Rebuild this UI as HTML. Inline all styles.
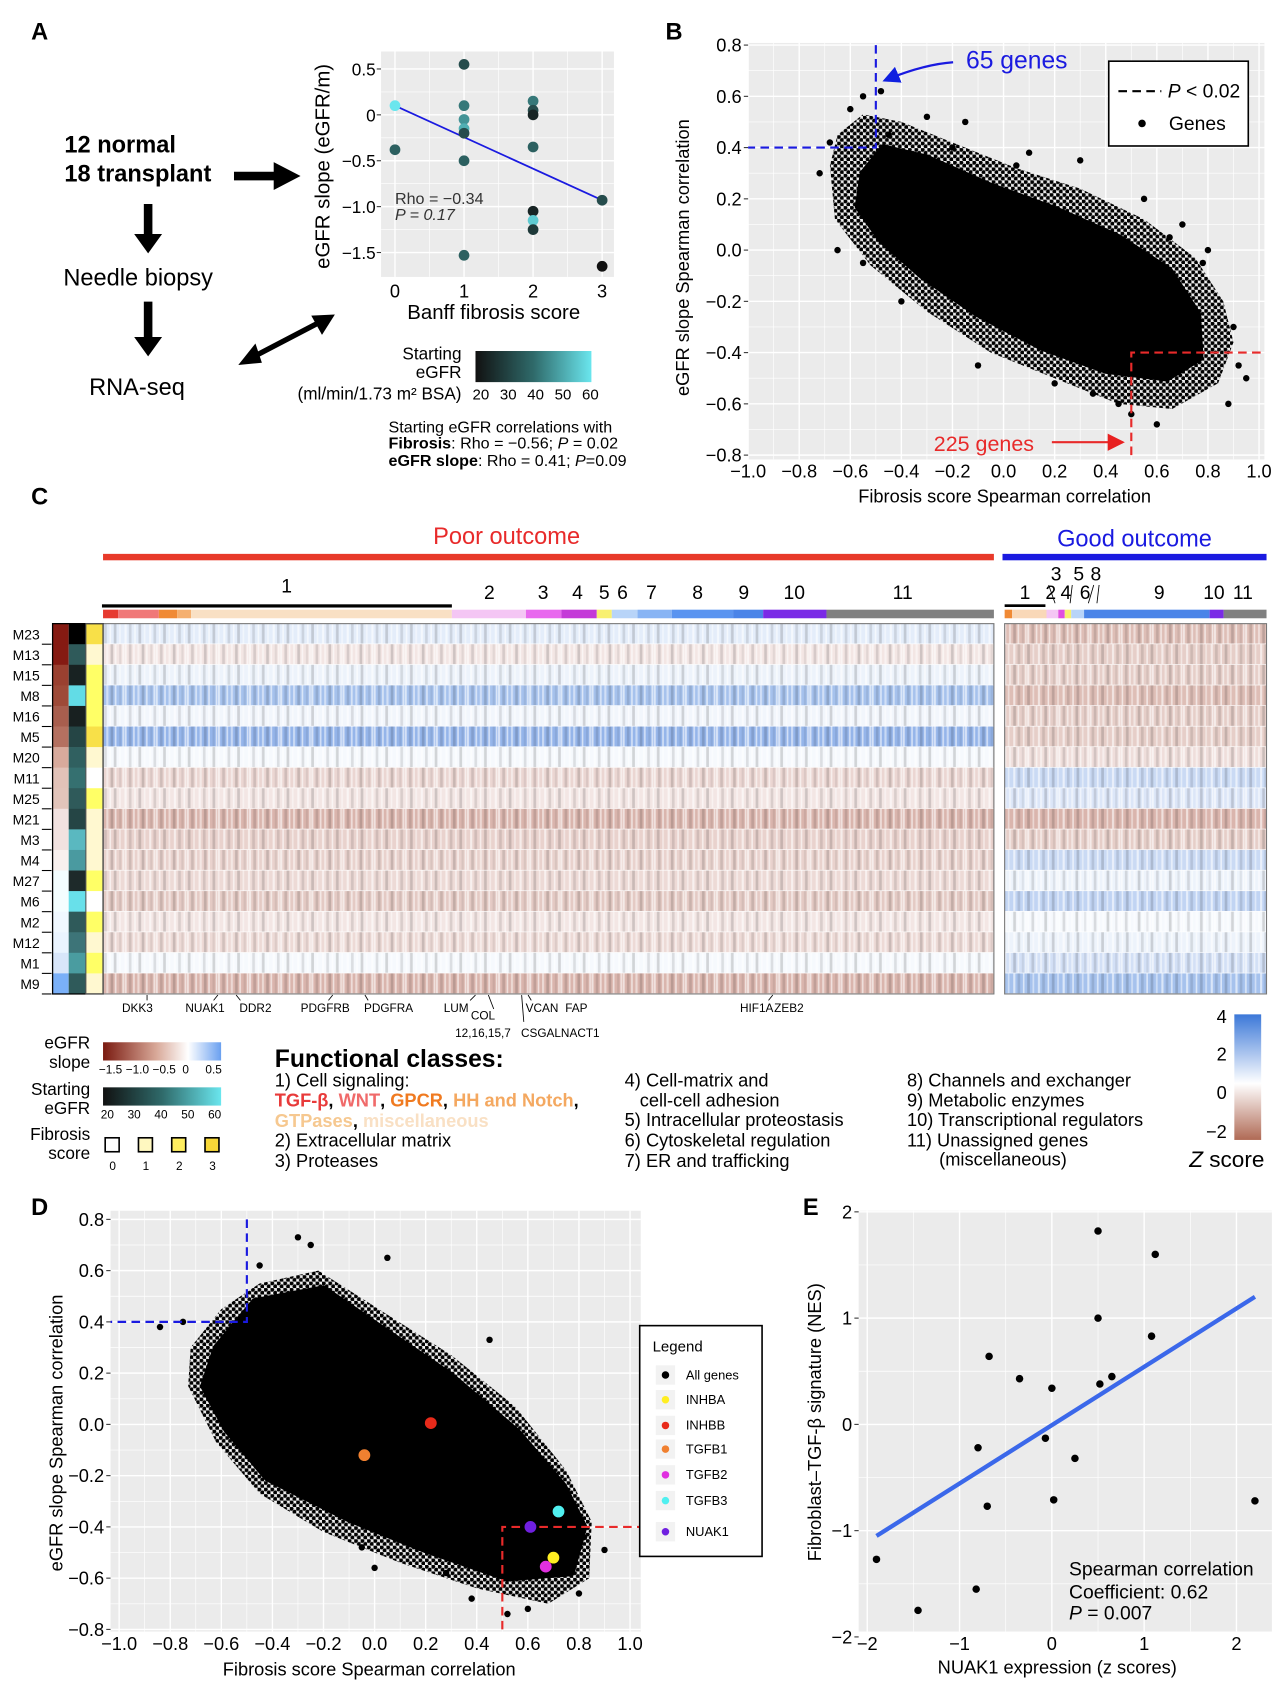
<!DOCTYPE html>
<html><head><meta charset="utf-8"><style>
html,body{margin:0;padding:0;background:#fff;}
svg{display:block;font-family:"Liberation Sans",sans-serif;}
</style></head><body>
<svg id="fig" width="1288" height="1682" viewBox="0 0 1200 1567" preserveAspectRatio="none" xmlns="http://www.w3.org/2000/svg">
<defs>
<pattern id="stripes" width="29" height="10" patternUnits="userSpaceOnUse">
<rect x="0" y="0" width="2" height="10" fill="#fff"/><rect x="4" y="0" width="2.5" height="10" fill="#000" opacity="0.2"/>
<rect x="8" y="0" width="1.5" height="10" fill="#fff"/><rect x="12" y="0" width="2" height="10" fill="#fff" opacity="0.8"/>
<rect x="16" y="0" width="2.5" height="10" fill="#000" opacity="0.25"/><rect x="20" y="0" width="1.5" height="10" fill="#fff"/>
<rect x="24" y="0" width="2" height="10" fill="#000" opacity="0.12"/><rect x="27" y="0" width="1.5" height="10" fill="#fff"/>
</pattern>
<pattern id="stripes2" width="23" height="10" patternUnits="userSpaceOnUse">
<rect x="1" y="0" width="2" height="10" fill="#fff"/><rect x="5" y="0" width="2.5" height="10" fill="#000" opacity="0.18"/>
<rect x="10" y="0" width="1.5" height="10" fill="#fff"/><rect x="14" y="0" width="2.5" height="10" fill="#000" opacity="0.25"/>
<rect x="19" y="0" width="1.5" height="10" fill="#fff" opacity="0.8"/>
</pattern>
<pattern id="dots" width="6" height="6" patternUnits="userSpaceOnUse">
<circle cx="1.5" cy="1.5" r="2" fill="#000"/><circle cx="4.5" cy="4.5" r="2" fill="#000"/>
</pattern>
<linearGradient id="gSlope" x1="0" x2="1"><stop offset="0" stop-color="#7a1a10"/><stop offset="0.45" stop-color="#d8a898"/><stop offset="0.72" stop-color="#fff"/><stop offset="1" stop-color="#6aa0f0"/></linearGradient>
<linearGradient id="gEgfr" x1="0" x2="1"><stop offset="0" stop-color="#111"/><stop offset="0.5" stop-color="#2f6a6a"/><stop offset="1" stop-color="#6ae6ee"/></linearGradient>
<linearGradient id="gZ" x1="0" y1="0" x2="0" y2="1"><stop offset="0" stop-color="#3c78d8"/><stop offset="0.55" stop-color="#fff"/><stop offset="1" stop-color="#b06a55"/></linearGradient>
<marker id="ahb" markerWidth="8" markerHeight="8" refX="7" refY="4" orient="auto"><path d="M0,0 L8,4 L0,8 z" fill="#1020e0"/></marker>
<marker id="ahr" markerWidth="8" markerHeight="8" refX="7" refY="4" orient="auto"><path d="M0,0 L8,4 L0,8 z" fill="#e82020"/></marker>
</defs>
<g id="root"></g>
</svg>
<script>
// ---------- data ----------
const aX=[0,0,1,1,1,1,1,1,1,2,2,2,2,2,2,2,3,3];
const aY=[0.1,-0.38,0.55,0.1,-0.05,-0.15,-0.2,-0.5,-1.53,0.15,0.05,0.0,-0.35,-1.05,-1.15,-1.25,-0.93,-1.65];
const aEgfr=[60,35,30,40,45,50,30,35,35,40,30,20,35,20,55,25,30,15];
const aFit=[0.1,-0.93];
const bCore=[[-0.55,0.3],[-0.47,0.4],[-0.3,0.36],[-0.05,0.25],[0.2,0.16],[0.45,0.05],[0.65,-0.08],[0.76,-0.25],[0.77,-0.42],[0.64,-0.5],[0.4,-0.47],[0.15,-0.38],[-0.1,-0.25],[-0.32,-0.1],[-0.48,0.04],[-0.57,0.17]];
const bOuter=[[-0.68,0.33],[-0.65,0.45],[-0.55,0.53],[-0.4,0.5],[-0.2,0.42],[0.05,0.32],[0.3,0.24],[0.55,0.12],[0.75,-0.03],[0.86,-0.2],[0.9,-0.36],[0.84,-0.52],[0.66,-0.62],[0.45,-0.6],[0.2,-0.5],[-0.05,-0.4],[-0.3,-0.24],[-0.52,-0.06],[-0.66,0.12]];
const bOutX=[-0.68,-0.72,-0.55,-0.3,-0.15,0.1,0.3,0.55,0.7,0.9,0.95,0.88,0.6,0.45,0.2,-0.1,-0.4,-0.65,-0.55,0.65,0.78,0.92,-0.48,-0.2,0.35,-0.6,-0.45,0.05,0.8,0.5];
const bOutY=[0.42,0.3,0.6,0.52,0.5,0.38,0.35,0.2,0.1,-0.3,-0.5,-0.6,-0.68,-0.6,-0.52,-0.45,-0.2,0.0,-0.05,0.05,-0.05,-0.45,0.62,0.4,-0.56,0.55,0.45,0.33,0.0,-0.64];
const dCore=[[-0.62,0.3],[-0.47,0.48],[-0.2,0.53],[0.02,0.38],[0.3,0.19],[0.56,-0.03],[0.74,-0.24],[0.82,-0.4],[0.77,-0.58],[0.52,-0.6],[0.2,-0.49],[-0.1,-0.37],[-0.42,-0.21],[-0.58,-0.02],[-0.67,0.15]];
const dOuter=[[-0.72,0.3],[-0.6,0.45],[-0.45,0.55],[-0.22,0.6],[0.0,0.46],[0.3,0.27],[0.55,0.07],[0.75,-0.18],[0.85,-0.38],[0.84,-0.6],[0.68,-0.7],[0.4,-0.64],[0.1,-0.54],[-0.2,-0.42],[-0.45,-0.27],[-0.62,-0.07],[-0.73,0.15]];
const dOutX=[-0.84,-0.75,-0.3,-0.25,0.05,0.45,-0.45,-0.62,0.6,0.82,0.9,0.8,0.52,0.38,0.28,-0.05,0.0,-0.2];
const dOutY=[0.38,0.4,0.73,0.7,0.65,0.33,0.62,0.05,-0.72,-0.44,-0.49,-0.66,-0.74,-0.68,-0.58,-0.48,-0.56,0.5];
const dGenes=['INHBA','INHBB','TGFB1','TGFB2','TGFB3','NUAK1'];
const dGeneX=[0.7,0.22,-0.04,0.67,0.72,0.61];
const dGeneY=[-0.52,0.005,-0.12,-0.555,-0.34,-0.4];
const dGeneCol=['#ffee22','#e82a1a','#f08030','#e030e0','#50f0f0','#7020e0'];
const eX=[-1.9,-1.45,-0.82,-0.8,-0.7,-0.68,-0.35,0.0,-0.07,0.02,0.25,0.5,0.5,0.52,0.65,1.08,1.12,2.2];
const eY=[-1.27,-1.75,-1.55,-0.22,-0.77,0.64,0.43,0.34,-0.13,-0.71,-0.32,1.82,1.0,0.38,0.45,0.83,1.6,-0.72];
const eFitX=[-1.9,2.2];
const eFitY=[-1.05,1.2];
const rowLabels=['M23','M13','M15','M8','M16','M5','M20','M11','M25','M21','M3','M4','M27','M6','M2','M12','M1','M9'];
const poorMean=[0.3,-0.3,0.2,1.0,0.15,1.2,0.1,-0.5,-0.3,-0.9,-0.55,-0.55,-0.45,-0.65,-0.3,-0.45,0.1,-0.9];
const goodMean=[-0.8,-0.6,-0.6,-0.8,-0.6,-0.6,-0.4,0.6,0.4,-0.9,-0.6,0.6,0.2,0.7,0.1,0.2,0.5,1.0];
const slopeCol=['#851a12','#851a12','#9a4030','#9e4a38','#a85e4e','#b47060','#d8aa9c','#e2c2b8','#e2c4ba','#f2e2e0','#f2e2e0','#f8f0ee','#f4feff','#f4feff','#f0f8ff','#eaf4ff','#d8e6fa','#7ab0f8'];
const egfrCol=['#000000','#2f5a5a','#182222','#62dce6','#182020','#254545','#306060','#357070','#2f5a5a','#254545','#5ab8c0','#4a9aa0','#1e2a2a','#68e0ea','#2f5a5a','#3d7478','#4a9ca0','#2f5a5a'];
const fibScore=[3,1,2,2,2,3,1,0,2,1,1,1,2,0,2,1,2,1];

// ---------- helpers ----------
const NS='http://www.w3.org/2000/svg';
const root=document.getElementById('root');
function el(tag,attrs,parent,text){const e=document.createElementNS(NS,tag);for(const k in attrs)e.setAttribute(k,attrs[k]);if(text!==undefined)e.textContent=text;(parent||root).appendChild(e);return e;}
function txt(x,y,s,size,opts,parent){const o=Object.assign({x:x,y:y,'font-size':size,fill:'#000'},opts||{});return el('text',o,parent,s);}
function lin(a0,a1,p0,p1){return v=>p0+(v-a0)/(a1-a0)*(p1-p0);}
function grid(g,x0,x1,y0,y1,sx,sy,xs,ys,xm,ym){
  el('rect',{x:x0,y:y0,width:x1-x0,height:y1-y0,fill:'#ebebeb'},g);
  xm.forEach(v=>el('line',{x1:sx(v),x2:sx(v),y1:y0,y2:y1,stroke:'#fff','stroke-width':0.6},g));
  ym.forEach(v=>el('line',{y1:sy(v),y2:sy(v),x1:x0,x2:x1,stroke:'#fff','stroke-width':0.6},g));
  xs.forEach(v=>el('line',{x1:sx(v),x2:sx(v),y1:y0,y2:y1,stroke:'#fff','stroke-width':1.3},g));
  ys.forEach(v=>el('line',{y1:sy(v),y2:sy(v),x1:x0,x2:x1,stroke:'#fff','stroke-width':1.3},g));
}
function fmt(v){return v<0?'\u2212'+Math.abs(v).toFixed(1):v.toFixed(1);}
function poly(pts,sx,sy){return pts.map(p=>sx(p[0]).toFixed(1)+','+sy(p[1]).toFixed(1)).join(' ');}
function egfrColor(v){const t=(v-15)/45;const c0=[17,17,17],c1=[47,106,106],c2=[106,230,238];let a,b,u;if(t<0.5){a=c0;b=c1;u=t*2;}else{a=c1;b=c2;u=(t-0.5)*2;}return 'rgb('+a.map((x,i)=>Math.round(x+(b[i]-x)*u)).join(',')+')';}
function zColor(z){const t=Math.max(-1,Math.min(1,z/2.2));let c=t>=0?[60,120,216]:[165,75,55];const u=Math.abs(t);return 'rgb('+c.map(x=>Math.round(255+(x-255)*u)).join(',')+')';}

// ---------- panel labels ----------
[['A',29,37],['B',620,37],['C',29,470],['D',29,1132],['E',748,1132]].forEach(p=>{const t=txt(p[1],p[2],p[0],22,{'font-weight':'bold'});});

// ---------- panel A ----------
const gA=el('g',{});


txt(60,142,'12 normal',22,{'font-weight':'bold'},gA);
txt(60,169,'18 transplant',22,{'font-weight':'bold'},gA);
el('path',{d:'M218,160 L255,160 L255,151 L280,164 L255,177 L255,168 L218,168 Z',fill:'#000'},gA);
el('path',{d:'M134,190 L142,190 L142,218 L151,218 L138,236 L125,218 L134,218 Z',fill:'#000'},gA);
txt(59,266,'Needle biopsy',22,{},gA);
el('path',{d:'M134,281 L142,281 L142,314 L151,314 L138,332 L125,314 L134,314 Z',fill:'#000'},gA);
txt(83,368,'RNA-seq',22,{},gA);
el('line',{x1:233,y1:334,x2:302,y2:298,stroke:'#000','stroke-width':5},gA);
el('path',{d:'M222,340 L238,320 L244,338 Z',fill:'#000'},gA);
el('path',{d:'M312,293 L290,294 L300,312 Z',fill:'#000'},gA);
const axA=lin(0,3,368,561), ayA=lin(0,-1,107,192.5);
grid(gA,355,572,48,258,axA,ayA,[0,1,2,3],[0.5,0,-0.5,-1,-1.5],[0.5,1.5,2.5],[0.25,-0.25,-0.75,-1.25]);
[0.5,0,-0.5,-1,-1.5].forEach(v=>{txt(350,ayA(v)+6,v===0?'0':(v<0?'\u2212'+Math.abs(v).toFixed(1):v.toFixed(1)),16,{'text-anchor':'end'},gA);el('line',{x1:351,x2:355,y1:ayA(v),y2:ayA(v),stroke:'#333'},gA);});
[0,1,2,3].forEach(v=>txt(axA(v),277,String(v),17,{'text-anchor':'middle'},gA));
txt(460,297,'Banff fibrosis score',19,{'text-anchor':'middle'},gA);
txt(0,0,'eGFR slope (eGFR/m)',19,{'text-anchor':'middle',transform:'translate(307,155) rotate(-90)'},gA);
el('line',{x1:axA(0),y1:ayA(aFit[0]),x2:axA(3),y2:ayA(aFit[1]),stroke:'#1a1ae0','stroke-width':1.6},gA);
aX.forEach((x,i)=>{const c=el('circle',{cx:axA(x),cy:ayA(aY[i]),r:5,fill:egfrColor(aEgfr[i])},gA);});
txt(368,190,'Rho = \u22120.34',15,{fill:'#333'},gA);
txt(368,205,'P = 0.17',15,{fill:'#333','font-style':'italic'},gA);
txt(430,335,'Starting',16,{'text-anchor':'end'},gA);
txt(430,352,'eGFR',16,{'text-anchor':'end'},gA);
txt(430,372,'(ml/min/1.73 m\u00b2 BSA)',16,{'text-anchor':'end'},gA);
el('rect',{x:443,y:327,width:108,height:29,fill:'url(#gEgfr)'},gA);
[20,30,40,50,60].forEach((v,i)=>txt(448+i*25.5,372,String(v),14,{'text-anchor':'middle'},gA));
txt(362,403,'Starting eGFR correlations with',15,{},gA);
const tf=txt(362,418,'',15,{},gA);el('tspan',{'font-weight':'bold'},tf,'Fibrosis');el('tspan',{},tf,':  Rho = \u22120.56; ');el('tspan',{'font-style':'italic'},tf,'P');el('tspan',{},tf,' = 0.02');
const ts=txt(362,434,'',15,{},gA);el('tspan',{'font-weight':'bold'},ts,'eGFR slope');el('tspan',{},ts,':  Rho = 0.41; ');el('tspan',{'font-style':'italic'},ts,'P');el('tspan',{},ts,'=0.09');

// ---------- panel B / D scatter ----------
function corrPanel(name,x0,x1,y0,y1,sx,sy,core,outer,ox,oy){
  const g=el('g',{});
  
  
  const ticks=[-1,-0.8,-0.6,-0.4,-0.2,0,0.2,0.4,0.6,0.8,1.0];
  const yt=[-0.8,-0.6,-0.4,-0.2,0,0.2,0.4,0.6,0.8];
  grid(g,x0,x1,y0,y1,sx,sy,ticks,yt,[-0.9,-0.7,-0.5,-0.3,-0.1,0.1,0.3,0.5,0.7,0.9],[-0.7,-0.5,-0.3,-0.1,0.1,0.3,0.5,0.7]);
  ticks.forEach(v=>{txt(sx(v),y1+17,fmt(v),17,{'text-anchor':'middle'},g);});
  yt.forEach(v=>{txt(x0-6,sy(v)+6,fmt(v),17,{'text-anchor':'end'},g);el('line',{x1:x0-4,x2:x0,y1:sy(v),y2:sy(v),stroke:'#333'},g);});
  el('polygon',{points:poly(outer,sx,sy),fill:'url(#dots)'},g);
  el('polygon',{points:poly(core,sx,sy),fill:'#000',stroke:'#000','stroke-width':6,'stroke-linejoin':'round'},g);
  ox.forEach((x,i)=>el('circle',{cx:sx(x),cy:sy(oy[i]),r:3,fill:'#000'},g));
  el('polyline',{points:[sx(-0.5),sy(0.8),sx(-0.5),sy(0.4),x0,sy(0.4)].join(' '),fill:'none',stroke:'#1a1ae0','stroke-width':2,'stroke-dasharray':'8,5'},g);
  el('polyline',{points:[sx(0.5),sy(-0.8),sx(0.5),sy(-0.4),x1,sy(-0.4)].join(' '),fill:'none',stroke:'#e82a2a','stroke-width':2,'stroke-dasharray':'8,5'},g);
  return g;
}
const bx=lin(0,1,935,1173), by=lin(0,0.8,233,42);
const gB=corrPanel('panel-b-scatter',697,1178,40,428,bx,by,bCore,bOuter,bOutX,bOutY);
txt(936,468,'Fibrosis score Spearman correlation',17,{'text-anchor':'middle'},gB);
txt(0,0,'eGFR slope Spearman correlation',17,{'text-anchor':'middle',transform:'translate(642,240) rotate(-90)'},gB);
txt(900,64,'65 genes',23,{fill:'#1a1ae0'},gB);
el('path',{d:'M888,58 Q860,60 824,75',fill:'none',stroke:'#1a1ae0','stroke-width':2,'marker-end':'url(#ahb)'},gB);
txt(870,420,'225 genes',20,{fill:'#e82a2a'},gB);
el('line',{x1:980,y1:412,x2:1046,y2:412,stroke:'#e82a2a','stroke-width':2,'marker-end':'url(#ahr)'},gB);
const lgB=el('g',{},gB);


el('rect',{x:1033,y:57,width:130,height:79,fill:'#fff',stroke:'#000','stroke-width':1.5},lgB);
el('line',{x1:1042,x2:1082,y1:85,y2:85,stroke:'#000','stroke-width':2,'stroke-dasharray':'8,5'},lgB);
const pl=txt(1088,91,'',18,{},lgB);el('tspan',{'font-style':'italic'},pl,'P');el('tspan',{},pl,' < 0.02');
el('circle',{cx:1064,cy:115,r:3.5,fill:'#000'},lgB);
txt(1089,121,'Genes',18,{},lgB);

const dx=lin(0,1,349,587), dy=lin(0,0.8,1327,1136);
const gD=corrPanel('panel-d-scatter',103,597,1128,1520,dx,dy,dCore,dOuter,dOutX,dOutY);
txt(344,1561,'Fibrosis score Spearman correlation',17,{'text-anchor':'middle'},gD);
txt(0,0,'eGFR slope Spearman correlation',17,{'text-anchor':'middle',transform:'translate(58,1335) rotate(-90)'},gD);
dGenes.forEach((n,i)=>{const c=el('circle',{cx:dx(dGeneX[i]),cy:dy(dGeneY[i]),r:5.5,fill:dGeneCol[i]},gD);});
const lgD=el('g',{},gD);


el('rect',{x:596,y:1235,width:114,height:215,fill:'#fff',stroke:'#000','stroke-width':1.5},lgD);
txt(608,1259,'Legend',14,{},lgD);
const lgN=['All genes'].concat(dGenes), lgC=['#000'].concat(dGeneCol), lgY=[1281,1304,1328,1350,1374,1398,1427];
lgN.forEach((n,i)=>{el('rect',{x:611,y:lgY[i]-9,width:18,height:18,fill:'#f2f2f2'},lgD);el('circle',{cx:620,cy:lgY[i],r:3.5,fill:lgC[i]},lgD);txt(639,lgY[i]+4,n,12,{},lgD);});

// ---------- panel E ----------
const gE=el('g',{});


const ex=lin(0,1,980,1066), ey=lin(0,1,1327,1228);
grid(gE,800,1185,1128,1520,ex,ey,[-2,-1,0,1,2],[2,1,0,-1,-2],[-1.5,-0.5,0.5,1.5],[1.5,0.5,-0.5,-1.5]);
[-2,-1,0,1,2].forEach(v=>{txt(ex(v),1537,v<0?'\u2212'+Math.abs(v):String(v),17,{'text-anchor':'middle'},gE);txt(794,ey(v)+6,v<0?'\u2212'+Math.abs(v):String(v),17,{'text-anchor':'end'},gE);el('line',{x1:796,x2:800,y1:ey(v),y2:ey(v),stroke:'#333'},gE);});
el('line',{x1:ex(eFitX[0]),y1:ey(eFitY[0]),x2:ex(eFitX[1]),y2:ey(eFitY[1]),stroke:'#3b68ea','stroke-width':4},gE);
eX.forEach((x,i)=>el('circle',{cx:ex(x),cy:ey(eY[i]),r:3.5,fill:'#000'},gE));
txt(985,1559,'NUAK1 expression (z scores)',17,{'text-anchor':'middle'},gE);
txt(0,0,'Fibroblast\u2013TGF-\u03b2 signature (NES)',17,{'text-anchor':'middle',transform:'translate(765,1325) rotate(-90)'},gE);
txt(996,1468,'Spearman correlation',18,{},gE);
txt(996,1489,'Coefficient:  0.62',18,{},gE);
const pe=txt(996,1509,'',18,{},gE);el('tspan',{'font-style':'italic'},pe,'P');el('tspan',{},pe,' = 0.007');

// ---------- panel C heatmap ----------
const gC=el('g',{});


txt(472,507,'Poor outcome',22,{fill:'#e82a2a','text-anchor':'middle'},gC);
el('rect',{x:96,y:516,width:830,height:6,fill:'#e83a2a'},gC);
txt(1057,509,'Good outcome',22,{fill:'#1a1ae0','text-anchor':'middle'},gC);
el('rect',{x:934,y:516,width:246,height:6,fill:'#1a1ae0'},gC);
const segs=[[96,110,'#e63a30'],[110,148,'#f07878'],[148,165,'#f08a35'],[165,178,'#f5b070'],[178,421,'#f9e0c4'],[421,490,'#f4c6f4'],[490,523,'#e868ee'],[523,556,'#c43ad8'],[556,570,'#f8f070'],[570,594,'#b8d4f8'],[594,626,'#88b4f4'],[626,683,'#5a94f0'],[683,711,'#4a84e8'],[711,770,'#7a2ae6'],[770,926,'#808080'],
 [936,943,'#f08a35'],[943,975,'#f9d8b8'],[975,986,'#f4c6f4'],[986,992,'#e050e0'],[992,998,'#f8f070'],[998,1010,'#b8d4f8'],[1010,1127,'#4a84e8'],[1127,1140,'#7a2ae6'],[1140,1180,'#808080']];
segs.forEach(s=>el('rect',{x:s[0],y:568,width:s[1]-s[0],height:8,fill:s[2]},gC));
el('rect',{x:95,y:563,width:326,height:3,fill:'#000'},gC);
el('rect',{x:936,y:563,width:38,height:2.5,fill:'#000'},gC);
[['1',267,552],['2',456,558],['3',506,558],['4',538,558],['5',563,558],['6',580,558],['7',607,558],['8',650,558],['9',693,558],['10',740,558],['11',841,558],
 ['1',955,558],['2',979,558],['3',984,541],['4',993,558],['5',1005,541],['6',1011,558],['8',1021,541],['9',1080,558],['10',1131,558],['11',1158,558]].forEach(n=>txt(n[1],n[2],n[0],18,{'text-anchor':'middle'},gC));
[[977,545,983,562],[999,545,997,562],[1019,545,1014,562],[1024,545,1022,562]].forEach(l=>el('line',{x1:l[0],y1:l[1],x2:l[2],y2:l[3],stroke:'#000','stroke-width':0.8},gC));
const rowH=(926-581)/rowLabels.length;
rowLabels.forEach((lab,i)=>{
  const y=581+i*rowH;
  const rl=txt(37,y+rowH/2+5,lab,13,{'text-anchor':'end'},gC);
  
  
  el('line',{x1:39,x2:48,y1:y+rowH,y2:y+rowH,stroke:'#000','stroke-width':1},gC);
  el('rect',{x:49,y:y,width:15,height:rowH+0.3,fill:slopeCol[i]},gC);
  el('rect',{x:64,y:y,width:16,height:rowH+0.3,fill:egfrCol[i]},gC);
  el('rect',{x:80,y:y,width:16,height:rowH+0.3,fill:['#ffffff','#fff8d0','#ffff66','#f8e048'][fibScore[i]]},gC);
  const rp=el('rect',{x:96,y:y,width:830,height:rowH-0.6,fill:zColor(poorMean[i])},gC);
  
  
  el('rect',{x:96,y:y,width:830,height:rowH-0.6,fill:i%2?'url(#stripes)':'url(#stripes2)',opacity:0.6},gC);
  const rg=el('rect',{x:936,y:y,width:244,height:rowH-0.6,fill:zColor(goodMean[i])},gC);
  
  
  el('rect',{x:936,y:y,width:244,height:rowH-0.6,fill:i%2?'url(#stripes2)':'url(#stripes)',opacity:0.6},gC);
});
el('rect',{x:96,y:581,width:830,height:345,fill:'none',stroke:'#777','stroke-width':1},gC);
el('rect',{x:936,y:581,width:244,height:345,fill:'none',stroke:'#777','stroke-width':1},gC);
el('rect',{x:49,y:581,width:47,height:345,fill:'none',stroke:'#000','stroke-width':1.2},gC);
el('rect',{x:80,y:581,width:16,height:345,fill:'none',stroke:'#555','stroke-width':1},gC);
[['DKK3',128,943],['NUAK1',191,943],['DDR2',238,943],['PDGFRB',303,943],['PDGFRA',362,943],['LUM',425,943],['COL',450,950],['12,16,15,7',450,966],['VCAN',505,943],['FAP',537,943],['CSGALNACT1',522,966],['HIF1A',705,943],['ZEB2',735,943]].forEach(g=>txt(g[1],g[2],g[0],11,{'text-anchor':'middle'},gC));
[[137,927,137,932],[203,927,199,932],[220,927,224,932],[310,927,306,932],[340,927,343,932],[443,927,438,932],[455,927,460,940],[486,927,488,952],[492,927,495,932],[720,927,716,932]].forEach(l=>el('line',{x1:l[0],y1:l[1],x2:l[2],y2:l[3],stroke:'#000','stroke-width':0.8},gC));

// legends C
const gL=el('g',{});


txt(84,977,'eGFR',16,{'text-anchor':'end'},gL);txt(84,995,'slope',16,{'text-anchor':'end'},gL);
el('rect',{x:96,y:971,width:110,height:17,fill:'url(#gSlope)'},gL);
[['\u22121.5',103],['\u22121.0',128],['\u22120.5',153],['0',173],['0.5',199]].forEach(t=>txt(t[1],1000,t[0],11,{'text-anchor':'middle'},gL));
txt(84,1020,'Starting',16,{'text-anchor':'end'},gL);txt(84,1038,'eGFR',16,{'text-anchor':'end'},gL);
el('rect',{x:96,y:1013,width:110,height:17,fill:'url(#gEgfr)'},gL);
[20,30,40,50,60].forEach((v,i)=>txt(100+i*25,1042,String(v),11,{'text-anchor':'middle'},gL));
txt(84,1062,'Fibrosis',16,{'text-anchor':'end'},gL);txt(84,1080,'score',16,{'text-anchor':'end'},gL);
['#ffffff','#fff8c0','#ffee60','#f8d838'].forEach((c,i)=>{el('rect',{x:98+i*31,y:1060,width:13,height:13,fill:c,stroke:'#000','stroke-width':1.5},gL);txt(105+i*31,1090,String(i),11,{'text-anchor':'middle'},gL);});
const gF=el('g',{});


txt(256,994,'Functional classes:',23,{'font-weight':'bold'},gF);
txt(256,1012,'1) Cell signaling:',17,{},gF);
const cs=txt(256,1031,'',17,{'font-weight':'bold'},gF);
[['TGF-\u03b2','#e83a3a'],[', ','#000'],['WNT','#f06a6a'],[', ','#000'],['GPCR','#f07a20'],[', ','#000'],['HH and Notch','#f4a860'],[',','#000']].forEach(s=>el('tspan',{fill:s[1]},cs,s[0]));
const cs2=txt(256,1050,'',17,{'font-weight':'bold'},gF);
[['GTPases','#f6c890'],[', ','#000'],['miscellaneous','#f9e0c4']].forEach(s=>el('tspan',{fill:s[1]},cs2,s[0]));
txt(256,1068,'2) Extracellular matrix',17,{},gF);
txt(256,1087,'3) Proteases',17,{},gF);
txt(582,1012,'4) Cell-matrix and',17,{},gF);
txt(596,1031,'cell-cell adhesion',17,{},gF);
txt(582,1049,'5) Intracellular proteostasis',17,{},gF);
txt(582,1068,'6) Cytoskeletal regulation',17,{},gF);
txt(582,1087,'7) ER and trafficking',17,{},gF);
txt(845,1012,'8) Channels and exchanger',17,{},gF);
txt(845,1031,'9) Metabolic enzymes',17,{},gF);
txt(845,1049,'10) Transcriptional regulators',17,{},gF);
txt(845,1068,'11) Unassigned genes',17,{},gF);
txt(875,1086,'(miscellaneous)',17,{},gF);
const gZ=el('g',{});


el('rect',{x:1150,y:945,width:25,height:117,fill:'url(#gZ)'},gZ);
[['4',953],['2',988],['0',1024],['\u22122',1060]].forEach(t=>txt(1143,t[1],t[0],17,{'text-anchor':'end'},gZ));
const zs=txt(1108,1087,'',21,{},gZ);el('tspan',{'font-style':'italic'},zs,'Z');el('tspan',{},zs,' score');
</script>
</body></html>
